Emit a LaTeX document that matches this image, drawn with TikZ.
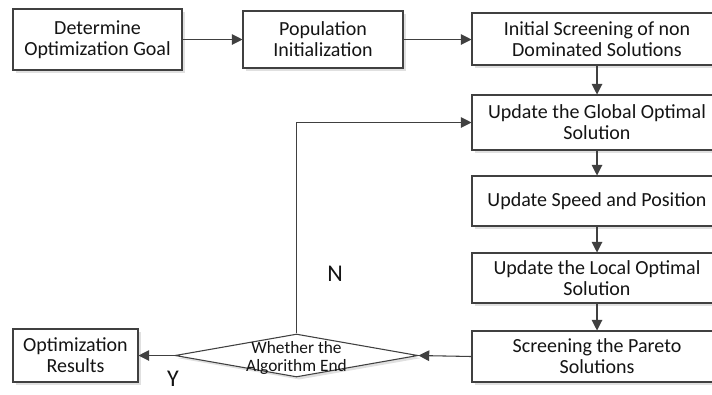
\documentclass[tikz,border=0pt]{standalone}
\usepackage{fontspec}
\setmainfont{Carlito}
\usetikzlibrary{arrows.meta,shapes.geometric,shadows}
\definecolor{edge}{HTML}{404040}
\definecolor{txt}{HTML}{141414}
\tikzset{
  procbox/.style={draw=edge, line width=0.8pt, fill=white, rectangle, align=center,
    inner sep=2pt, text=txt, font=\fontsize{15}{15.8}\selectfont,
    drop shadow={shadow xshift=2pt, shadow yshift=-2pt, opacity=0.12, fill=black}},
  decision/.style={draw=edge, line width=0.8pt, fill=white, diamond, inner sep=0pt,
    minimum width=182.25pt, minimum height=32.25pt,
    drop shadow={shadow xshift=2pt, shadow yshift=-2pt, opacity=0.12, fill=black}},
  flow/.style={draw=edge, line width=0.8pt, -{Triangle[length=8pt,width=8pt]}},
  yn/.style={text=txt, inner sep=0pt, font=\fontsize{18}{20}\selectfont},
}
\begin{document}
\begin{tikzpicture}[x=0.75pt,y=-0.75pt]
\useasboundingbox (0,0) rectangle (712,394);
\fill[white] (0,0) rectangle (712,394);

\node[procbox, minimum width=126.75pt, minimum height=45.75pt] (b1) at (97.5,39.5) {Determine\\Optimization Goal};
\node[procbox, minimum width=120pt, minimum height=42.75pt] (b2) at (323,39.5) {Population\\Initialization};
\node[procbox, minimum width=187.5pt, minimum height=39pt] (b3) at (597,39) {Initial Screening of non\\Dominated Solutions};
\node[procbox, minimum width=187.5pt, minimum height=41.25pt] (b4) at (597,122.5) {Update the Global Optimal\\Solution};
\node[procbox, minimum width=187.5pt, minimum height=37.5pt] (b5) at (597,201) {Update Speed and Position};
\node[procbox, minimum width=187.5pt, minimum height=37.5pt] (b6) at (597,278) {Update the Local Optimal\\Solution};
\node[procbox, minimum width=187.5pt, minimum height=38.25pt] (b7) at (597,356.5) {Screening the Pareto\\Solutions};
\node[procbox, minimum width=93.75pt, minimum height=39.75pt] (b8) at (75.5,355.5) {Optimization\\Results};
\node[decision] (d) at (296.5,355.5) {};
\node[align=center, text=txt, font=\fontsize{13}{14}\selectfont] (dt) at (296.5,358) {Whether the\\Algorithm End};

\node[yn] (nlab) at (335,274) {N};
\node[yn] (ylab) at (173,379) {Y};

\draw[flow] (b1.east) -- (b1.east -| b2.west);
\draw[flow] (b2.east) -- (b2.east -| b3.west);
\draw[flow] (b3.south) -- (b4.north);
\draw[flow] (b4.south) -- (b5.north);
\draw[flow] (b5.south) -- (b6.north);
\draw[flow] (b6.south) -- (b7.north);
\draw[flow] (b7.west) -- (d.east);
\draw[flow] (d.west) -- (b8.east);
\draw[flow] (d.north) -- (d.north |- b4.west) -- (b4.west);
\end{tikzpicture}
\end{document}
